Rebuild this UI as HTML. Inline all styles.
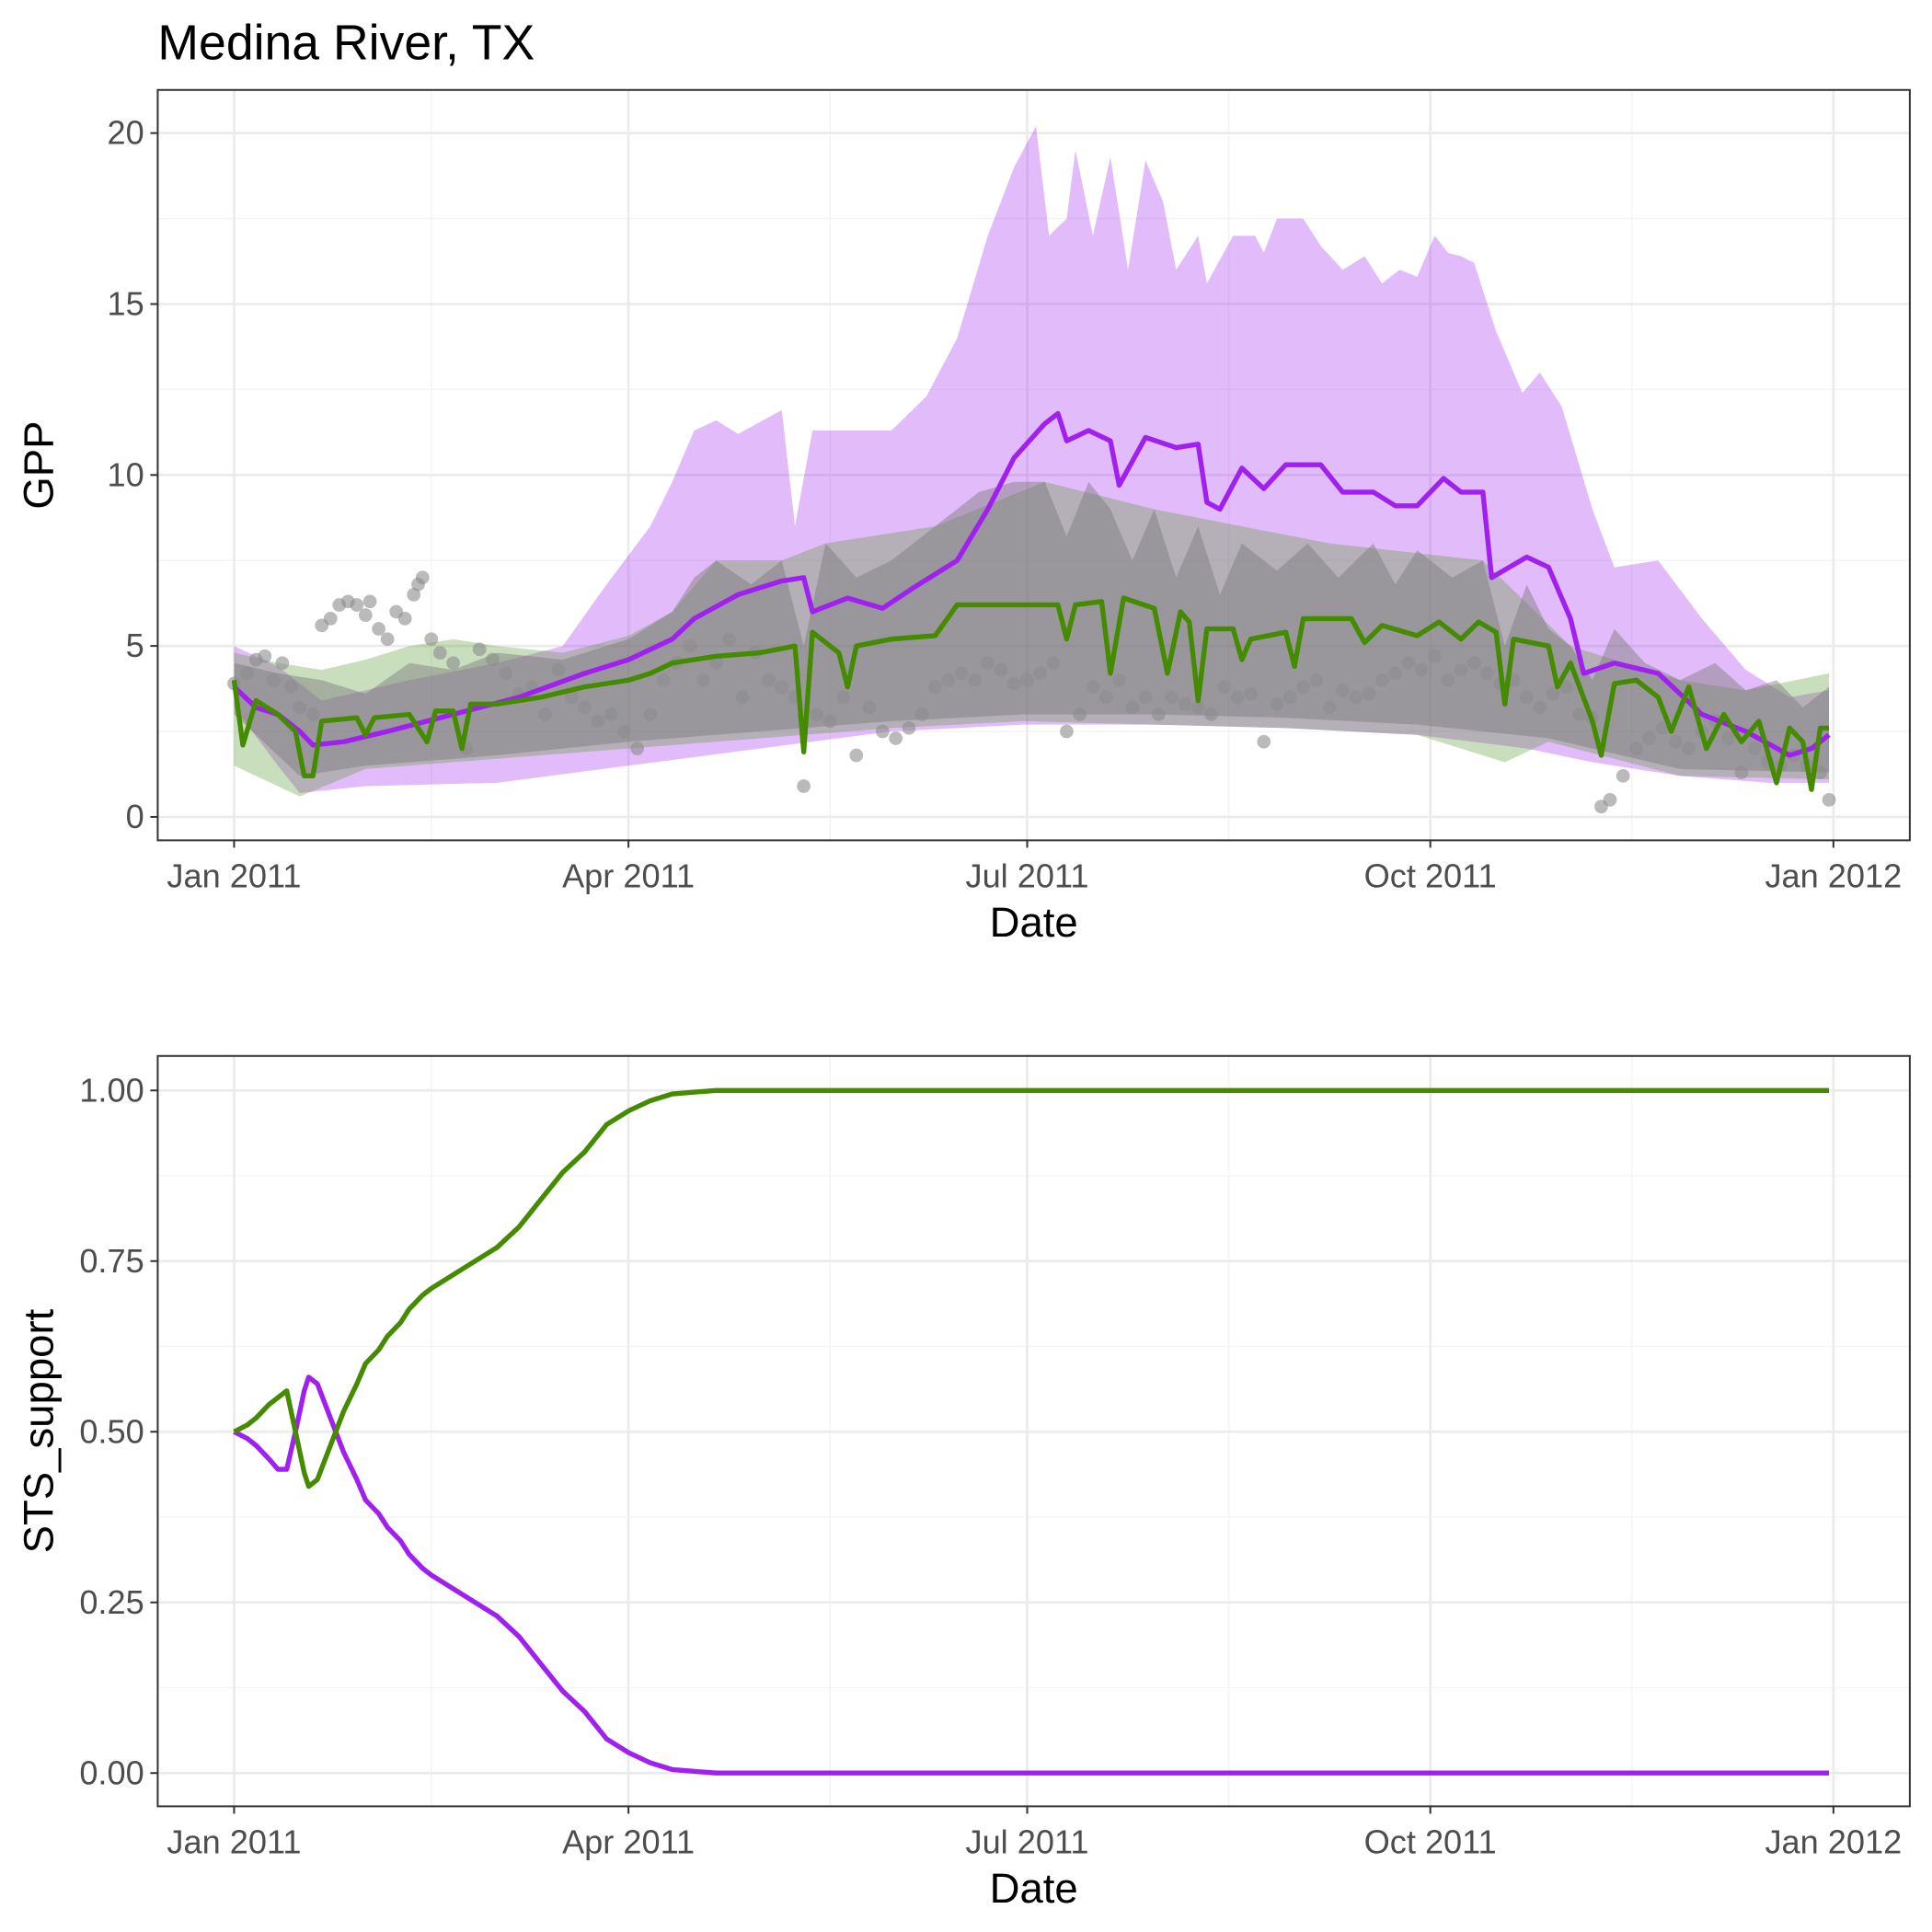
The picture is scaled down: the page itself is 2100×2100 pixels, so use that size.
<!DOCTYPE html>
<html><head><meta charset="utf-8"><style>
html,body{margin:0;padding:0;background:#fff}
svg{display:block;font-family:"Liberation Sans",Arial,sans-serif}
</style></head><body>
<svg id="chart" width="2100" height="2100" viewBox="0 0 1568 1568" xmlns="http://www.w3.org/2000/svg">
<rect width="1568" height="1568" fill="#fff"/>
<text x="128" y="48" font-size="40" fill="#000">Medina River, TX</text>
<g id="p1"></g>
<g id="p2"></g>
</svg>
<script>
// ---------- DATA ----------
const xTickLabels = ["Jan 2011","Apr 2011","Jul 2011","Oct 2011","Jan 2012"];
const xTickDays = [0,90,181,273,365];
const gppTicks = [0,5,10,15,20];
const stsTicks = [0,0.25,0.5,0.75,1];
const stsTickLabels = ["0.00","0.25","0.50","0.75","1.00"];

const purpleLine = [[0,3.8],[5,3.2],[10,3.0],[15,2.5],[18,2.1],[25,2.2],[35,2.5],[50,3.0],[65,3.5],[80,4.2],[90,4.6],[100,5.2],[105,5.8],[115,6.5],[125,6.9],[130,7.0],[132,6.0],[140,6.4],[148,6.1],[155,6.7],[165,7.5],[172,9.0],[178,10.5],[185,11.5],[188,11.8],[190,11.0],[195,11.3],[200,11.0],[202,9.7],[208,11.1],[215,10.8],[220,10.9],[222,9.2],[225,9.0],[230,10.2],[235,9.6],[240,10.3],[248,10.3],[253,9.5],[260,9.5],[265,9.1],[270,9.1],[276,9.9],[280,9.5],[285,9.5],[287,7.0],[295,7.6],[300,7.3],[305,5.8],[308,4.2],[315,4.5],[325,4.2],[335,3.0],[345,2.5],[355,1.8],[360,2.0],[364,2.4]];
const purpleUpper = [[0,5.0],[10,4.4],[20,3.4],[40,4.0],[60,4.5],[75,5.0],[85,6.8],[95,8.5],[100,9.8],[105,11.3],[110,11.6],[115,11.2],[125,11.9],[128,8.5],[132,11.3],[140,11.3],[150,11.3],[158,12.3],[165,14.0],[172,17.0],[178,19.0],[183,20.2],[186,17.0],[190,17.5],[192,19.5],[196,17.0],[200,19.3],[204,16.0],[208,19.2],[212,18.0],[215,16.0],[220,17.0],[222,15.6],[228,17.0],[233,17.0],[235,16.5],[238,17.5],[244,17.5],[248,16.7],[253,16.0],[258,16.4],[262,15.6],[266,16.0],[270,15.8],[274,17.0],[277,16.5],[280,16.4],[283,16.2],[288,14.2],[294,12.4],[298,13.0],[303,12.0],[310,9.0],[315,7.3],[325,7.5],[335,5.8],[345,4.3],[355,3.5],[364,3.7]];
const purpleLower = [[0,3.2],[10,1.5],[15,0.7],[30,0.9],[60,1.0],[90,1.5],[120,2.0],[150,2.5],[180,2.7],[210,2.7],[240,2.6],[270,2.4],[295,2.0],[310,1.6],[330,1.2],[350,1.0],[364,1.0]];
const greyUpper = [[0,4.5],[10,4.2],[20,4.0],[30,3.6],[40,4.5],[50,4.3],[60,4.8],[75,4.6],[90,5.2],[100,6.0],[105,7.0],[110,7.5],[118,6.8],[125,7.5],[130,5.0],[135,8.0],[142,7.0],[150,7.5],[160,8.5],[170,9.5],[178,9.8],[185,9.8],[190,8.2],[195,9.8],[200,9.0],[205,7.5],[210,9.0],[215,7.0],[220,8.5],[225,6.5],[230,8.0],[238,7.2],[245,8.0],[252,7.0],[260,8.0],[265,6.8],[270,7.8],[278,7.0],[285,7.5],[290,5.0],[295,6.8],[300,5.5],[305,5.0],[310,4.0],[315,5.5],[322,4.5],[330,4.0],[338,4.5],[345,3.7],[352,4.0],[358,3.2],[364,3.8]];
const greyLower = [[0,3.0],[15,1.2],[30,1.5],[60,1.8],[90,2.2],[120,2.5],[150,2.8],[180,3.0],[210,3.0],[240,2.9],[270,2.7],[300,2.3],[330,1.4],[364,1.3]];
const greenUpper = [[0,4.8],[10,4.5],[20,4.3],[30,4.6],[40,5.0],[50,5.2],[60,5.0],[75,4.8],[90,5.3],[100,6.0],[110,7.5],[125,7.5],[135,8.0],[160,8.5],[185,9.8],[210,9.0],[250,8.0],[285,7.5],[305,5.0],[330,4.0],[345,3.7],[364,4.2]];
const greenLower = [[0,1.5],[15,0.6],[30,1.4],[90,2.0],[150,2.6],[180,2.8],[240,2.6],[270,2.4],[290,1.6],[300,2.2],[330,1.2],[364,1.1]];
const greenLine = [[0,4.0],[2,2.1],[5,3.4],[10,3.0],[14,2.5],[16,1.2],[18,1.2],[20,2.8],[28,2.9],[30,2.4],[32,2.9],[40,3.0],[44,2.2],[46,3.1],[50,3.1],[52,2.0],[54,3.3],[60,3.3],[70,3.5],[80,3.8],[90,4.0],[95,4.2],[100,4.5],[110,4.7],[120,4.8],[128,5.0],[130,1.9],[132,5.4],[138,4.8],[140,3.8],[142,5.0],[150,5.2],[160,5.3],[165,6.2],[180,6.2],[188,6.2],[190,5.2],[192,6.2],[198,6.3],[200,4.2],[203,6.4],[210,6.1],[213,4.2],[216,6.0],[218,5.7],[220,3.4],[222,5.5],[228,5.5],[230,4.6],[232,5.2],[240,5.4],[242,4.4],[244,5.8],[255,5.8],[258,5.1],[262,5.6],[270,5.3],[275,5.7],[280,5.2],[284,5.7],[288,5.4],[290,3.3],[292,5.2],[300,5.0],[302,3.8],[305,4.5],[310,2.8],[312,1.8],[315,3.9],[320,4.0],[325,3.5],[328,2.5],[332,3.8],[336,2.0],[340,3.0],[344,2.2],[348,2.8],[352,1.0],[355,2.6],[358,2.2],[360,0.8],[362,2.6],[364,2.6]];
const obsDays = [0,3,5,7,9,11,13,15,18,20,22,24,26,28,30,31,33,35,37,39,41,42,43,45,47,50,53,56,59,62,65,68,71,74,77,80,83,86,89,92,95,98,101,104,107,110,113,116,119,122,125,128,130,133,136,139,142,145,148,151,154,157,160,163,166,169,172,175,178,181,184,187,190,193,196,199,202,205,208,211,214,217,220,223,226,229,232,235,238,241,244,247,250,253,256,259,262,265,268,271,274,277,280,283,286,289,292,295,298,301,304,307,310,312,314,317,320,323,326,329,332,335,338,341,344,347,350,353,356,359,362,364];
const obsVals = [3.9,4.2,4.6,4.7,4.0,4.5,3.8,3.2,3.0,5.6,5.8,6.2,6.3,6.2,5.9,6.3,5.5,5.2,6.0,5.8,6.5,6.8,7.0,5.2,4.8,4.5,2.0,4.9,4.6,4.2,3.6,3.8,3.0,4.3,3.5,3.2,2.8,3.0,2.5,2.0,3.0,4.0,4.5,5.0,4.0,4.5,5.2,3.5,4.8,4.0,3.8,3.5,0.9,3.0,2.8,3.5,1.8,3.2,2.5,2.3,2.6,3.0,3.8,4.0,4.2,4.0,4.5,4.3,3.9,4.0,4.2,4.5,2.5,3.0,3.8,3.5,4.0,3.2,3.5,3.0,3.5,3.3,3.2,3.0,3.8,3.5,3.6,2.2,3.3,3.5,3.8,4.0,3.2,3.7,3.5,3.6,4.0,4.2,4.5,4.3,4.7,4.0,4.3,4.5,4.2,3.9,4.0,3.5,3.2,3.6,3.8,3.0,2.9,0.3,0.5,1.2,2.0,2.3,2.6,2.2,2.0,2.5,2.8,2.3,1.3,2.0,1.6,1.5,1.8,1.5,1.3,0.5,1.5,2.5,2.3];

const stsGreen = [[0,0.5],[3,0.51],[5,0.52],[8,0.54],[10,0.55],[12,0.56],[14,0.5],[16,0.44],[17,0.42],[19,0.43],[22,0.48],[25,0.53],[28,0.57],[30,0.6],[33,0.62],[35,0.64],[38,0.66],[40,0.68],[43,0.7],[45,0.71],[50,0.73],[55,0.75],[60,0.77],[65,0.8],[70,0.84],[75,0.88],[80,0.91],[85,0.95],[90,0.97],[95,0.985],[100,0.995],[110,1.0],[364,1.0]];
const stsPurple = [[0,0.5],[3,0.49],[5,0.48],[8,0.46],[10,0.445],[12,0.445],[14,0.5],[16,0.56],[17,0.58],[19,0.57],[22,0.52],[25,0.47],[28,0.43],[30,0.4],[33,0.38],[35,0.36],[38,0.34],[40,0.32],[43,0.3],[45,0.29],[50,0.27],[55,0.25],[60,0.23],[65,0.2],[70,0.16],[75,0.12],[80,0.09],[85,0.05],[90,0.03],[95,0.015],[100,0.005],[110,0.0],[364,0.0]];

// ---------- DRAW ----------
const NS="http://www.w3.org/2000/svg";
function mk(parent,tag,attrs){const e=document.createElementNS(NS,tag);for(const k in attrs)e.setAttribute(k,attrs[k]);parent.appendChild(e);return e;}
const xS = d => 190 + d*(1488-190)/365;
const L=128,R=1550;

function frame(g, top, bot, yS, ticks, labels, minorTicks){
  mk(g,'rect',{x:L,y:top,width:R-L,height:bot-top,fill:'#fff'});
  minorTicks.forEach(v=>mk(g,'line',{x1:L,x2:R,y1:yS(v),y2:yS(v),stroke:'#f3f3f3','stroke-width':1}));
  [45,136,227,319].forEach(d=>mk(g,'line',{x1:xS(d),x2:xS(d),y1:top,y2:bot,stroke:'#f3f3f3','stroke-width':1}));
  ticks.forEach(v=>mk(g,'line',{x1:L,x2:R,y1:yS(v),y2:yS(v),stroke:'#ebebeb','stroke-width':2}));
  xTickDays.forEach(d=>mk(g,'line',{x1:xS(d),x2:xS(d),y1:top,y2:bot,stroke:'#ebebeb','stroke-width':2}));
}
function axes(g, top, bot, yS, ticks, labels, yTitle){
  mk(g,'rect',{x:L,y:top,width:R-L,height:bot-top,fill:'none',stroke:'#333','stroke-width':1.5});
  ticks.forEach((v,i)=>{
    mk(g,'line',{x1:L-6,x2:L,y1:yS(v),y2:yS(v),stroke:'#333','stroke-width':1.5});
    const t=mk(g,'text',{x:L-11,y:yS(v)+9,'text-anchor':'end','font-size':27,fill:'#4d4d4d'});
    
    
    t.textContent=labels[i];
  });
  xTickDays.forEach((d,i)=>{
    mk(g,'line',{x1:xS(d),x2:xS(d),y1:bot,y2:bot+6,stroke:'#333','stroke-width':1.5});
    const t=mk(g,'text',{x:xS(d),y:bot+38,'text-anchor':'middle','font-size':27,fill:'#4d4d4d'});
    
    
    t.textContent=xTickLabels[i];
  });
  const xt=mk(g,'text',{x:(L+R)/2,y:bot+78,'text-anchor':'middle','font-size':34,fill:'#000'});
  
  
  xt.textContent='Date';
  const cy=(top+bot)/2;
  const yt=mk(g,'text',{x:43,y:cy,'text-anchor':'middle','font-size':34,fill:'#000',transform:`rotate(-90 43 ${cy})`});
  
  
  yt.textContent=yTitle;
}
function band(g,up,lo,yS,fill,op,name){
  let d='M'+up.map(p=>xS(p[0]).toFixed(1)+','+yS(p[1]).toFixed(1)).join('L');
  d+='L'+lo.slice().reverse().map(p=>xS(p[0]).toFixed(1)+','+yS(p[1]).toFixed(1)).join('L')+'Z';
  const e=mk(g,'path',{d:d,fill:fill,'fill-opacity':op,stroke:'none'});
  
  
}
function line(g,pts,yS,col,name){
  const e=mk(g,'path',{d:'M'+pts.map(p=>xS(p[0]).toFixed(1)+','+yS(p[1]).toFixed(1)).join('L'),fill:'none',stroke:col,'stroke-width':4,'stroke-linejoin':'round'});
  
  
}

// panel 1
const g1=document.getElementById('p1');
const y1=v=>663 - v*(663-108)/20;
frame(g1,73,682,y1,gppTicks,null,[2.5,7.5,12.5,17.5]);
band(g1,purpleUpper,purpleLower,y1,'#a020f0',0.3,'purple-band');
band(g1,greenUpper,greenLower,y1,'#4d9221',0.3,'green-band');
band(g1,greyUpper,greyLower,y1,'#7a7a7a',0.45,'grey-band');
obsDays.forEach((d,i)=>{
  const c=mk(g1,'circle',{cx:xS(d),cy:y1(obsVals[i]),r:5.5,fill:'#8c8c8c','fill-opacity':0.6});
  
  
});
line(g1,purpleLine,y1,'#a020f0','purple-gpp-line');
line(g1,greenLine,y1,'#458b00','green-gpp-line');
axes(g1,73,682,y1,gppTicks,gppTicks.map(String),'GPP');

// panel 2
const g2=document.getElementById('p2');
const y2=v=>1439 - v*(1439-885);
frame(g2,857,1466,y2,stsTicks,null,[0.125,0.375,0.625,0.875]);
line(g2,stsPurple,y2,'#a020f0','purple-sts-line');
line(g2,stsGreen,y2,'#458b00','green-sts-line');
axes(g2,857,1466,y2,stsTicks,stsTickLabels,'STS_support');
</script>
</body></html>
